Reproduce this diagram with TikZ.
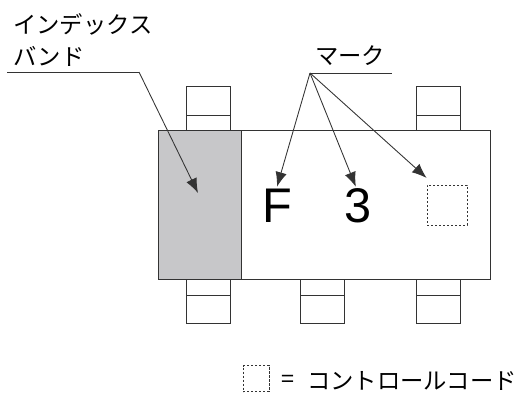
\documentclass[tikz,border=0pt]{standalone}
\usepackage{fontspec}
\setmainfont{Liberation Sans}
\newfontfamily\cjk{Noto Sans CJK JP}
\usetikzlibrary{arrows.meta}
\definecolor{bandgray}{rgb}{0.78,0.78,0.79}
\definecolor{linegray}{rgb}{0.2,0.2,0.2}
\tikzset{
  outline/.style={draw=linegray,line width=0.75pt},
  leadbox/.style={outline,fill=white,minimum width=33pt,minimum height=33pt,inner sep=0pt},
  codebox/.style={draw=linegray,line width=0.6pt,dash pattern=on 1.6pt off 1.4pt,inner sep=0pt},
  leader/.style={draw=linegray,line width=0.65pt},
  arrowline/.style={leader,-{Latex[length=11pt,width=8.5pt]}},
  jptext/.style={inner sep=0pt,font=\cjk\fontsize{17.5}{20}\selectfont},
  marktext/.style={inner sep=0pt,font=\fontsize{36.5}{40}\selectfont,text height=26.2pt,text depth=0pt}
}
\begin{document}
\begin{tikzpicture}[x=0.75pt,y=0.75pt,yscale=-1,xscale=1]
\useasboundingbox (0,0) rectangle (518,393);

% Leads
\node [leadbox] (leadTL) at (208,108) {};
\node [leadbox] (leadTR) at (438.5,108) {};
\node [leadbox] (leadBL) at (208,301.5) {};
\node [leadbox] (leadBM) at (322.5,301.5) {};
\node [leadbox] (leadBR) at (438.5,301.5) {};
\draw [outline] (186,115) -- (230,115);
\draw [outline] (416,115) -- (461,115);
\draw [outline] (186,295) -- (230,295);
\draw [outline] (300,295) -- (345,295);
\draw [outline] (416,295) -- (461,295);

% Package
\draw [outline,fill=white] (158,130) rectangle (490,279.5);
\draw [outline,fill=bandgray] (158,130) rectangle (241,279.5);

% Text Node
\node [jptext,anchor=west] (bandtop) at (13,24) {インデックス};
\node [jptext,anchor=west] (bandlow) at (13,56) {バンド};
\node [jptext,anchor=west] (marklabel) at (315,56) {マーク};
\node [marktext] (markF) at (277,205.5) {F};
\node [marktext] (markThree) at (358.5,205.5) {3};

% Control code
\node [codebox,minimum width=30pt,minimum height=30pt] (codeMark) at (447,205) {};
\node [codebox,minimum width=19.5pt,minimum height=19.5pt] (codeKey) at (256,378.5) {};
\node [jptext,anchor=west] (codeEq) at (281,381) {=};
\node [jptext,anchor=west] (codeText) at (307,381) {コントロールコード};

% Leader lines
\coordinate (bandstart) at (7,72);
\coordinate (bandknee) at (139,72);
\coordinate (bandtip) at (198,193);
\coordinate (markknee) at (310,73);
\coordinate (markend) at (392,73);
\draw [leader] (bandstart) -- (bandknee);
\draw [arrowline] (bandknee) -- (bandtip);
\draw [leader] (markknee) -- (markend);
\draw [arrowline] (markknee) -- ([yshift=-0.75pt]markF.north);
\draw [arrowline] (markknee) -- ([xshift=-2pt,yshift=-0.75pt]markThree.north);
\draw [arrowline] (markknee) -- ([yshift=-5pt]codeMark.north west);

\end{tikzpicture}
\end{document}
